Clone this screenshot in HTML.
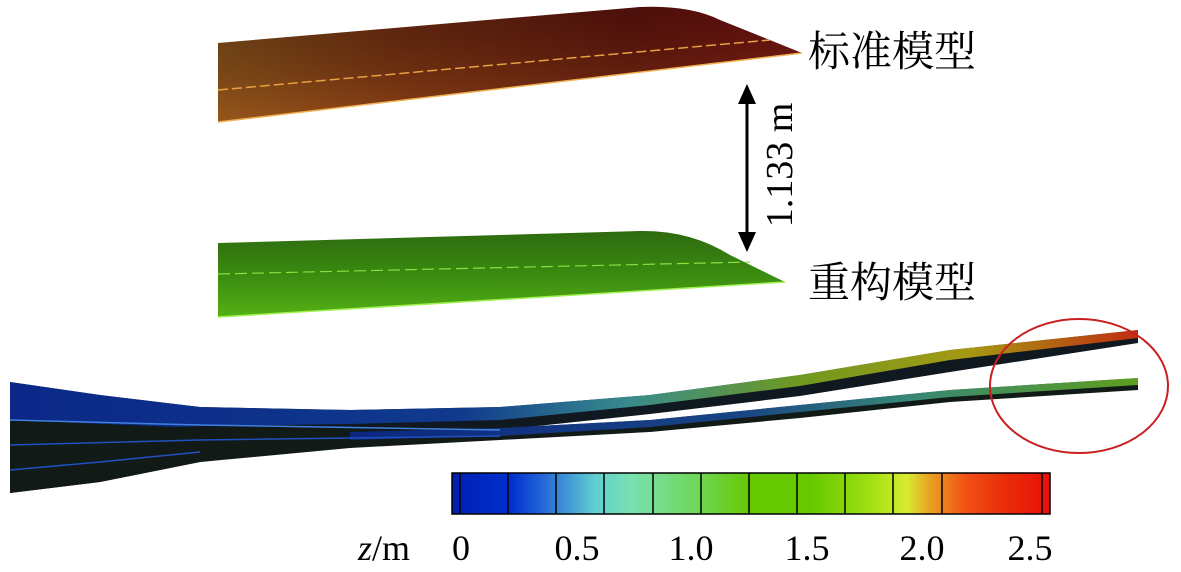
<!DOCTYPE html>
<html><head><meta charset="utf-8"><style>
html,body{margin:0;padding:0;background:#fff;}
svg{display:block;}
text{font-family:"Liberation Serif","Noto Serif CJK SC",serif;fill:#000;}
</style></head><body>
<svg width="1181" height="572" viewBox="0 0 1181 572" xmlns="http://www.w3.org/2000/svg">
<defs>
<linearGradient id="og" x1="0" y1="0" x2="1" y2="0">
<stop offset="0" stop-color="#7a4a18"/><stop offset="0.3" stop-color="#6a2a10"/><stop offset="0.7" stop-color="#5a120c"/><stop offset="1" stop-color="#701010"/>
</linearGradient>
<linearGradient id="ov" x1="0" y1="0" x2="0" y2="1">
<stop offset="0" stop-color="#000" stop-opacity="0.15"/><stop offset="1" stop-color="#d07020" stop-opacity="0.35"/>
</linearGradient>
<linearGradient id="gg" x1="0" y1="0" x2="0" y2="1">
<stop offset="0" stop-color="#2e6a10"/><stop offset="0.5" stop-color="#3a8a10"/><stop offset="1" stop-color="#55b015"/>
</linearGradient>
<linearGradient id="bl" x1="0" y1="0" x2="1" y2="0">
<stop offset="0" stop-color="#0a2a9a"/><stop offset="0.4" stop-color="#1040a0"/><stop offset="0.55" stop-color="#40a0a0"/><stop offset="0.7" stop-color="#80b020"/><stop offset="0.85" stop-color="#c0b010"/><stop offset="1" stop-color="#e03010"/>
</linearGradient>
<linearGradient id="bl2" x1="0" y1="0" x2="1" y2="0">
<stop offset="0" stop-color="#0a2a9a"/><stop offset="0.5" stop-color="#1a50a0"/><stop offset="0.7" stop-color="#40a090"/><stop offset="1" stop-color="#70c020"/>
</linearGradient>
<linearGradient id="cb" x1="0" y1="0" x2="1" y2="0">
<stop offset="0" stop-color="#0020b0"/><stop offset="0.1" stop-color="#0030d0"/><stop offset="0.16" stop-color="#2a70d8"/><stop offset="0.24" stop-color="#60d0d0"/><stop offset="0.3" stop-color="#7ae0b0"/><stop offset="0.4" stop-color="#70d860"/><stop offset="0.5" stop-color="#66c800"/><stop offset="0.6" stop-color="#66c800"/><stop offset="0.7" stop-color="#a0e010"/><stop offset="0.76" stop-color="#d8ec30"/><stop offset="0.8" stop-color="#e8a020"/><stop offset="0.86" stop-color="#f25015"/><stop offset="0.93" stop-color="#e82a08"/><stop offset="1" stop-color="#e81008"/>
</linearGradient>
</defs>
<!-- standard model -->
<path d="M218,43 L640,7 Q690,5 720,20 L802,53 L218,122 Z" fill="url(#og)"/>
<path d="M218,43 L640,7 Q690,5 720,20 L802,53 L218,122 Z" fill="url(#ov)"/>
<path d="M218,90 L770,40" stroke="#e8a040" stroke-width="1.5" stroke-dasharray="10 4"/>
<path d="M218,122 L802,53" stroke="#f0b050" stroke-width="1.5"/>
<!-- reconstructed -->
<path d="M218,243 L640,231 Q690,230 730,255 L785,282 L218,317 Z" fill="url(#gg)"/>
<path d="M218,274 L750,262" stroke="#8ae040" stroke-width="1.2" stroke-dasharray="12 5"/>
<path d="M218,317 L785,282" stroke="#a0f050" stroke-width="1.5"/>
<!-- labels -->
<text x="808" y="66" font-size="42">标准模型</text>
<text x="808" y="297" font-size="42">重构模型</text>
<line x1="747" y1="95" x2="747" y2="242" stroke="#000" stroke-width="3"/>
<path d="M747,84 L738,104 L756,104 Z" fill="#000"/>
<path d="M747,252 L738,232 L756,232 Z" fill="#000"/>
<text transform="translate(792,165) rotate(-90)" text-anchor="middle" font-size="38">1.133 m</text>
<!-- bottom blades -->
<path d="M10,382 L100,395 L200,407 L350,410 L500,407 L650,395 L800,375 L950,350 L1138,330 L1138,343 L950,372 L800,396 L650,414 L500,430 L350,446 L200,462 L100,482 L10,493 Z" fill="#101820"/>
<path d="M10,382 L100,395 L200,407 L350,410 L500,407 L650,395 L800,375 L950,350 L1138,330 L1138,338 L950,360 L800,386 L650,405 L500,420 L350,424 L200,426 L100,430 L10,440 Z" fill="url(#bl)" opacity="0.85"/>
<path d="M10,420 L200,428 L500,428 L650,420 L800,405 L950,390 L1138,378 L1138,390 L950,402 L800,418 L650,432 L500,440 L350,448 L200,462 L100,482 L10,493 Z" fill="#121a18"/>
<path d="M350,432 L500,428 L650,420 L800,405 L950,390 L1138,378 L1138,385 L950,397 L800,412 L650,427 L500,436 L350,440 Z" fill="url(#bl2)" opacity="0.8"/>
<path d="M10,420 L200,425 L500,430" stroke="#4080e0" stroke-width="1.5" fill="none"/>
<path d="M10,445 L200,440 L500,436" stroke="#2050c0" stroke-width="1.5" fill="none"/>
<path d="M10,470 L100,462 L200,452" stroke="#2050c0" stroke-width="1.5" fill="none"/>
<ellipse cx="1079" cy="386" rx="89" ry="67" fill="none" stroke="#c82020" stroke-width="2"/>
<!-- colorbar -->
<rect x="452" y="473" width="598" height="41" fill="url(#cb)" stroke="#000" stroke-width="1.5"/>
<g stroke="#000" stroke-width="1.5">
<line x1="460" y1="473" x2="460" y2="514"/><line x1="508" y1="473" x2="508" y2="514"/><line x1="556" y1="473" x2="556" y2="514"/><line x1="604" y1="473" x2="604" y2="514"/><line x1="653" y1="473" x2="653" y2="514"/><line x1="701" y1="473" x2="701" y2="514"/><line x1="749" y1="473" x2="749" y2="514"/><line x1="797" y1="473" x2="797" y2="514"/><line x1="845" y1="473" x2="845" y2="514"/><line x1="893" y1="473" x2="893" y2="514"/><line x1="942" y1="473" x2="942" y2="514"/><line x1="1042" y1="473" x2="1042" y2="514"/>
</g>
<g font-size="36" text-anchor="middle">
<text x="461" y="560">0</text><text x="577" y="560">0.5</text><text x="691" y="560">1.0</text><text x="807" y="560">1.5</text><text x="922" y="560">2.0</text><text x="1030" y="560">2.5</text>
</g>
<text x="358" y="560" font-size="36"><tspan font-style="italic">z</tspan>/m</text>
</svg>
</body></html>
